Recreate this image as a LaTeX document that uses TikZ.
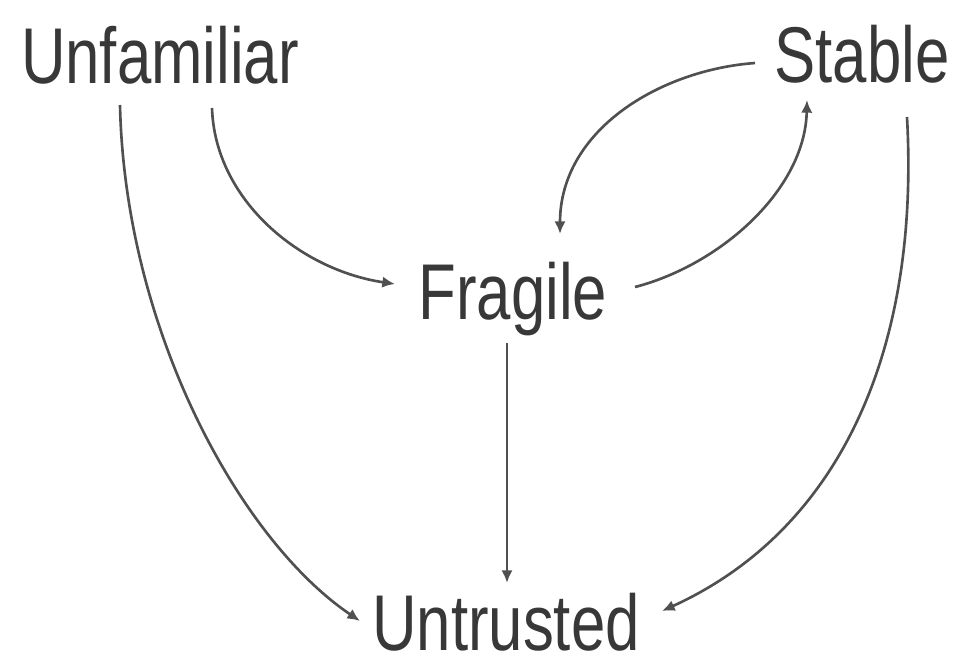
\documentclass[tikz,border=0pt]{standalone}
\usepackage{fontspec}
\setmainfont{Liberation Sans}[FakeStretch=0.78]
\usetikzlibrary{arrows.meta}
\definecolor{txtgrey}{HTML}{383838}
\definecolor{linegrey}{HTML}{505050}
\tikzset{
  lbl/.style={inner sep=0pt, anchor=base, text=txtgrey, font=\fontsize{22.5}{27}\selectfont},
  conn/.style={draw=linegrey, line width=0.75pt, -{Latex[length=3.6pt,width=3.2pt]}}
}
\begin{document}
\begin{tikzpicture}[x=0.01cm,y=-0.01cm]
\useasboundingbox (0,0) rectangle (957,666);
\node[lbl] (unf) at (160,83) {Unfamiliar};
\node[lbl] (sta) at (862,82) {Stable};
\node[lbl] (fra) at (513,319) {Fragile};
\node[lbl] (unt) at (506,650) {Untrusted};
% Unfamiliar -> Untrusted
\draw[conn] ([shift={(-40,22)}]unf.base) .. controls +(5,225) and +(-120,-81) .. ([shift={(-146,-29)}]unt.base);
% Unfamiliar -> Fragile
\draw[conn] ([shift={(52,25)}]unf.base) .. controls +(3,92) and +(-95,-14) .. ([shift={(-118,-35)}]fra.base);
% Stable -> Fragile
\draw[conn] ([shift={(-107,-19)}]sta.base) .. controls +(-95,7) and +(0,-104) .. ([shift={(47,-85)}]fra.base);
% Fragile -> Stable
\draw[conn] ([shift={(122,-32)}]fra.base) .. controls +(85,-22) and +(-2,90) .. ([shift={(-55,18)}]sta.base);
% Stable -> Untrusted
\draw[conn] ([shift={(45,35)}]sta.base) .. controls +(13,233) and +(178,-81) .. ([shift={(156,-39)}]unt.base);
% Fragile -> Untrusted
\draw[conn] ([shift={(-6,24)}]fra.base) -- ([shift={(1,-67)}]unt.base);
\end{tikzpicture}
\end{document}
